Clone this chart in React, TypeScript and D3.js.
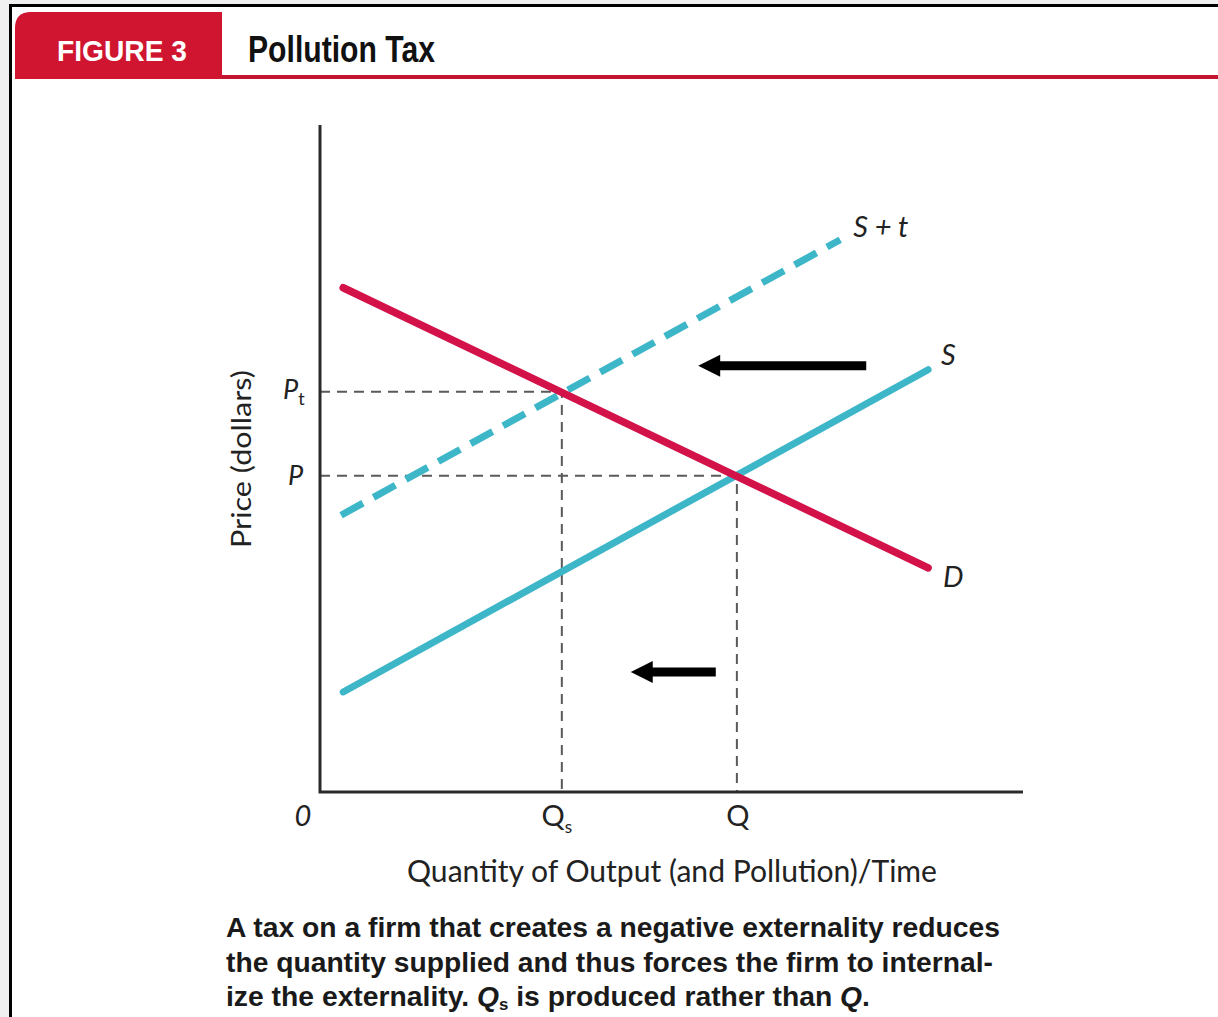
import React from "react";
import * as d3 from "d3";

const W = 1218;
const H = 1017;

// Curve endpoints as [quantity, price]
const demand: [number, number][] = [
  [0.33, 7.56],
  [8.65, 3.36],
];
const supply: [number, number][] = [
  [0.33, 1.5],
  [8.65, 6.33],
];
const supplyWithTax: [number, number][] = [
  [0.3, 4.15],
  [7.4, 8.28],
];

// Market outcomes
const equilibriumQ = 5.93;
const equilibriumP = 4.74;
const taxedQ = 3.44;
const taxedP = 6.0;

// Leftward shift arrows: [fromQ, toQ, price level]
const shiftArrows: [number, number, number][] = [
  [7.77, 5.38, 6.39],
  [5.63, 4.42, 1.8],
];

const captionLines = [
  "A tax on a firm that creates a negative externality reduces",
  "the quantity supplied and thus forces the firm to internal-",
];
const captionLast = ["ize the externality. ", "Q", "s", " is produced rather than ", "Q", "."];

const RED = "#cf1530";
const DEMAND = "#d3124a";
const SUPPLY = "#3db6c8";
const AXIS = "#2a2a2a";
const GUIDE = "#5a5a5a";

const labelFont = "Lato, 'Open Sans', 'DejaVu Sans', sans-serif";
const condensed = "'Liberation Sans Narrow', 'Arial Narrow', 'Liberation Sans', Arial, sans-serif";

export default function App() {
  const x = d3.scaleLinear().domain([0, 10]).range([320, 1023]);
  const y = d3.scaleLinear().domain([0, 10]).range([792, 125]);
  const line = d3
    .line<[number, number]>()
    .x((d) => x(d[0]))
    .y((d) => y(d[1]));

  const dEnd = demand[1];
  const sEnd = supply[1];
  const tEnd = supplyWithTax[1];

  return (
    <svg
      width={W}
      height={H}
      viewBox={`0 0 ${W} ${H}`}
      style={{ position: "absolute", left: 0, top: 0, display: "block" }}
    >
      {/* page frame */}
      <rect x={0} y={0} width={W} height={H} fill="#f0f0f0" />
      <rect x={9} y={4} width={W} height={H} fill="#ffffff" />
      <path d={`M10.5,${H} V5.5 H${W}`} fill="none" stroke="#000" strokeWidth={3} />

      {/* header */}
      <rect x={15} y={75} width={W - 15} height={4} fill="#c41432" />
      <path d="M15,79 V28 Q15,12 31,12 H222 V79 Z" fill={RED} />
      <text
        x={57}
        y={61}
        fill="#fff"
        fontFamily={condensed}
        fontWeight="bold"
        fontSize={30}
        textLength={130}
        lengthAdjust="spacingAndGlyphs"
      >
        FIGURE 3
      </text>
      <text
        x={248}
        y={62}
        fill="#111"
        fontFamily={condensed}
        fontWeight="bold"
        fontSize={37}
        textLength={187}
        lengthAdjust="spacingAndGlyphs"
      >
        Pollution Tax
      </text>

      {/* guide lines to the axes */}
      <g stroke={GUIDE} strokeWidth={2} strokeDasharray="10,7" fill="none">
        <path d={`M${x(0)},${y(taxedP)} H${x(taxedQ)} V${y(0)}`} />
        <path d={`M${x(0)},${y(equilibriumP)} H${x(equilibriumQ)} V${y(0)}`} />
      </g>

      {/* curves */}
      <path
        d={line(supplyWithTax) ?? ""}
        stroke={SUPPLY}
        strokeWidth={7}
        strokeDasharray="25,12"
        fill="none"
      />
      <path d={line(supply) ?? ""} stroke={SUPPLY} strokeWidth={7} fill="none" strokeLinecap="round" />
      <path d={line(demand) ?? ""} stroke={DEMAND} strokeWidth={7.5} fill="none" strokeLinecap="round" />

      {/* axes */}
      <path
        d={`M${x(0)},${y(10)} V${y(0)} H${x(10)}`}
        fill="none"
        stroke={AXIS}
        strokeWidth={3}
      />

      {/* shift arrows */}
      {shiftArrows.map(([from, to, p], i) => {
        const x0 = x(from);
        const x1 = x(to);
        const yy = y(p);
        return (
          <g key={i}>
            <line x1={x0} y1={yy} x2={x1 + 18} y2={yy} stroke="#000" strokeWidth={9} />
            <polygon points={`${x1},${yy} ${x1 + 22},${yy - 11} ${x1 + 22},${yy + 11}`} fill="#000" />
          </g>
        );
      })}

      {/* curve labels */}
      <g fontFamily={labelFont} fontStyle="italic" fontSize={29} fill="#222">
        <text x={x(tEnd[0]) + 13} y={y(tEnd[1]) - 3}>
          S + t
        </text>
        <text x={x(sEnd[0]) + 13} y={y(sEnd[1]) - 5}>
          S
        </text>
        <text x={x(dEnd[0]) + 15} y={y(dEnd[1]) + 19}>
          D
        </text>
      </g>

      {/* price labels */}
      <g fontFamily={labelFont} fontSize={27} fill="#222">
        <text x={x(0) - 37} y={y(taxedP) + 7} fontStyle="italic">
          P
          <tspan fontSize={18} fontStyle="normal" dy={6}>
            t
          </tspan>
        </text>
        <text x={x(0) - 32} y={y(equilibriumP) + 9} fontStyle="italic">
          P
        </text>
      </g>

      {/* quantity labels */}
      <g fontFamily={labelFont} fontSize={29} fill="#222" textAnchor="middle">
        <text x={x(0) - 17} y={826} fontStyle="italic">
          0
        </text>
        <text x={x(taxedQ) - 5} y={826}>
          Q
          <tspan fontSize={17} dy={7}>
            s
          </tspan>
        </text>
        <text x={x(equilibriumQ) + 1} y={826}>
          Q
        </text>
      </g>

      {/* axis titles */}
      <text
        x={407}
        y={882}
        fontFamily={labelFont}
        fontSize={30}
        fill="#222"
        textLength={530}
        lengthAdjust="spacingAndGlyphs"
      >
        Quantity of Output (and Pollution)/Time
      </text>
      <text
        transform={`translate(251, 459) rotate(-90)`}
        x={-89}
        fontFamily={labelFont}
        fontSize={27}
        fill="#222"
        textLength={178}
        lengthAdjust="spacingAndGlyphs"
      >
        Price (dollars)
      </text>

      {/* caption */}
      <g fontFamily={condensed} fontWeight="bold" fontSize={27} fill="#1a1a1a">
        <text x={226} y={937} textLength={774} lengthAdjust="spacingAndGlyphs">
          {captionLines[0]}
        </text>
        <text x={226} y={972} textLength={767} lengthAdjust="spacingAndGlyphs">
          {captionLines[1]}
        </text>
        <text x={226} y={1006} textLength={644} lengthAdjust="spacingAndGlyphs">
          {captionLast[0]}
          <tspan fontStyle="italic">{captionLast[1]}</tspan>
          <tspan fontSize={16} dy={4}>
            {captionLast[2]}
          </tspan>
          <tspan dy={-4}>{captionLast[3]}</tspan>
          <tspan fontStyle="italic">{captionLast[4]}</tspan>
          {captionLast[5]}
        </text>
      </g>
    </svg>
  );
}
